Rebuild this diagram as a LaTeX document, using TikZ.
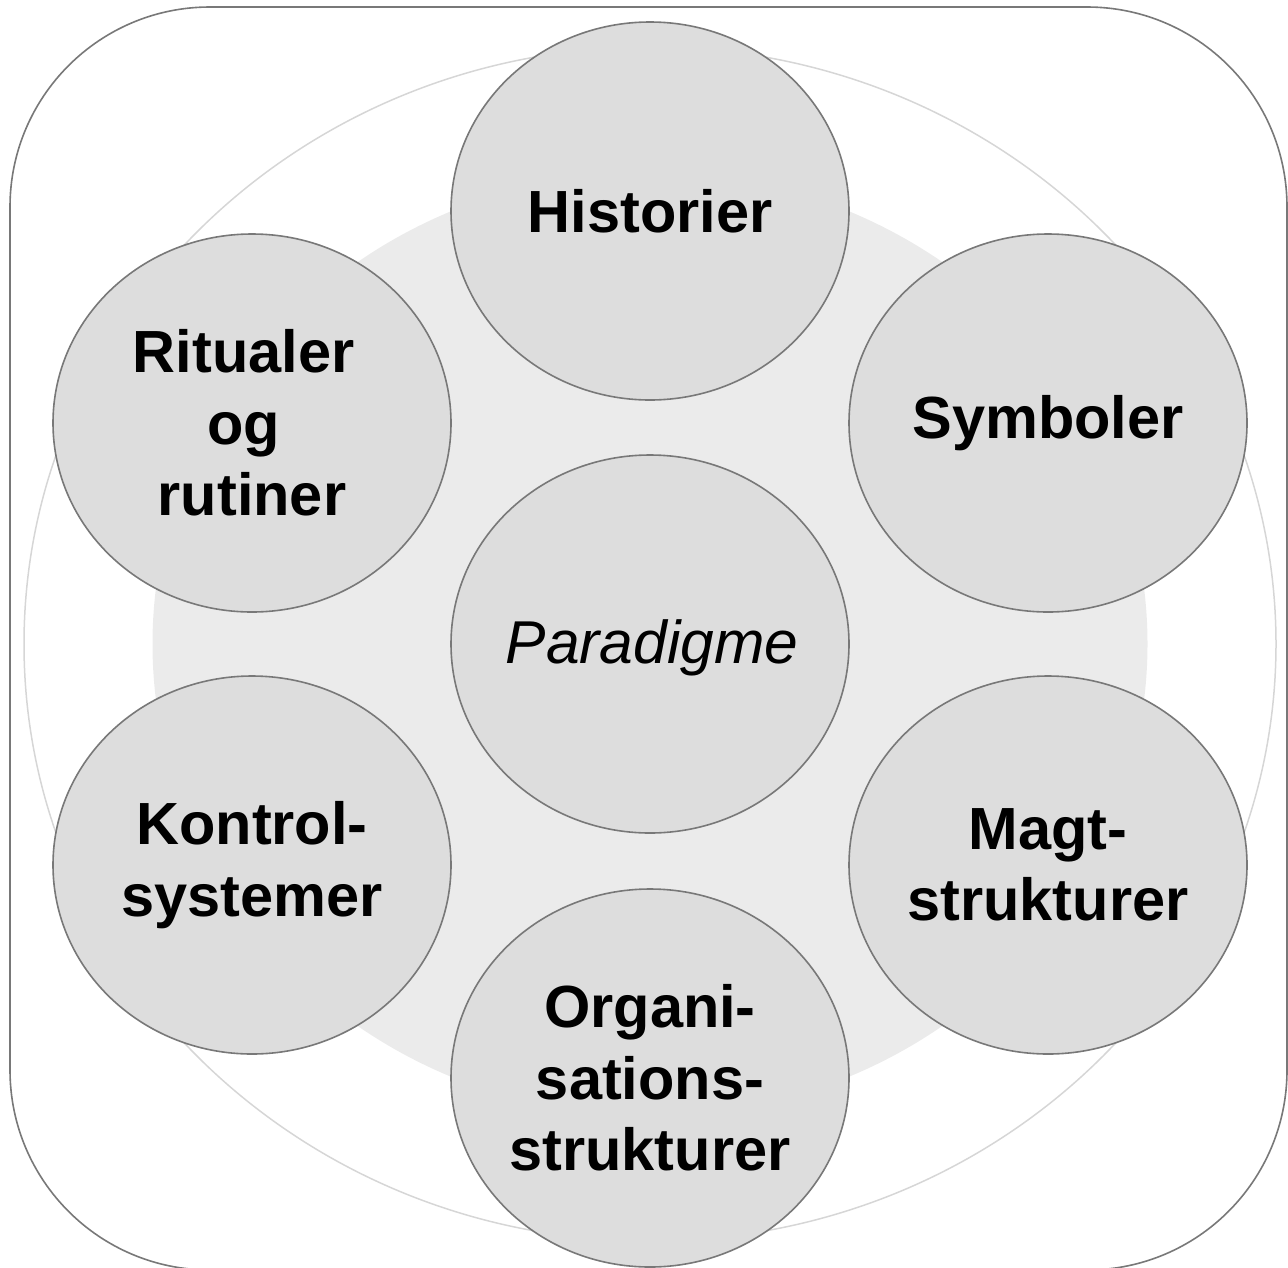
\documentclass[tikz,border=0pt]{standalone}
\usepackage{fontspec}
\setmainfont{Liberation Sans}
\usetikzlibrary{shapes.geometric}
\definecolor{edgegray}{HTML}{787878}
\definecolor{ringlight}{HTML}{D6D6D6}
\definecolor{discfill}{HTML}{EBEBEB}
\definecolor{itemfill}{HTML}{DDDDDD}
\newcommand{\trailgap}{\rule{0.28em}{0pt}}
\begin{document}
\begin{tikzpicture}[x=1pt,y=-1pt,
  item/.style={ellipse, draw=edgegray, line width=1.6pt, fill=itemfill,
    minimum width=398pt, minimum height=378pt, inner sep=0pt, align=center,
    font=\fontsize{59.5}{71.5}\selectfont\bfseries},
  centeritem/.style={item, font=\fontsize{60.5}{72}\selectfont\itshape}]
\useasboundingbox (0,0) rectangle (1288,1267);
% frame
\draw[edgegray, line width=1.6pt, rounded corners=200pt] (10,7) rectangle (1287,1270);
% outer ring and inner disc
\draw[ringlight, line width=1.5pt] (650,644) ellipse [x radius=626pt, y radius=597pt];
\fill[discfill] (650,644) ellipse [x radius=497.5pt, y radius=472pt];
% culture web elements
\node[item] (hist) at (650,211) {Historier};
\node[item] (sym) at (1048,423) {Symboler};
\node[item] (rit) at (252,423) {Ritualer\trailgap\\og\trailgap\\rutiner};
\node[centeritem] (par) at (650,644) {};
\node[font=\fontsize{60.5}{72}\selectfont\itshape, inner sep=0pt] (partext) at (652,648) {Paradigme};
\node[item] (kon) at (252,865) {Kontrol-\\systemer};
\node[item] (magt) at (1048,865) {Magt-\\strukturer};
\node[item] (org) at (650,1078) {Organi-\\sations-\\strukturer};
\end{tikzpicture}
\end{document}
